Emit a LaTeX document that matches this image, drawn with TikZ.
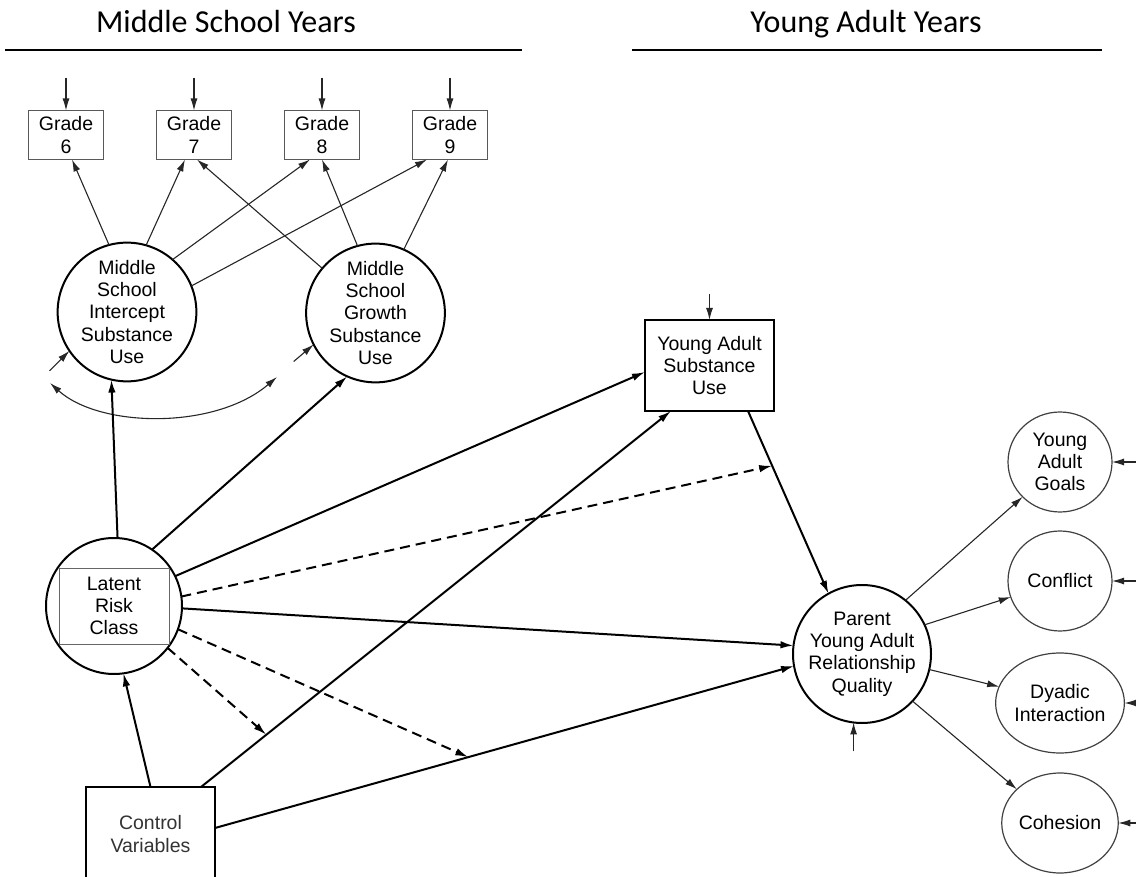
\documentclass[tikz,border=0pt]{standalone}
\usepackage{fontspec}
\setmainfont{Liberation Sans}
\newfontfamily\hdrfont{Carlito}
\usetikzlibrary{arrows.meta,shapes.geometric,calc}
\begin{document}
\begin{tikzpicture}[x=1pt,y=-1pt,
  every node/.style={font=\fontsize{19.5}{22.3}\selectfont, align=center, inner sep=0pt, outer sep=0pt},
  big/.style={circle, draw, line width=2pt, minimum size=136pt},
  small/.style={ellipse, draw=black!75, line width=1.2pt, minimum width=104pt, minimum height=100pt},
  grade/.style={rectangle, draw=black!65, line width=1.3pt, minimum width=75pt, minimum height=49pt},
  sbox/.style={rectangle, draw, line width=2pt, minimum width=129pt, minimum height=91pt},
  tip/.style={-{Latex[length=13pt,width=7.5pt]}},
  thin/.style={-{Latex[length=12pt,width=7pt]}, line width=1.1pt, draw=black!85},
  thick/.style={tip, line width=2pt},
  dsh/.style={tip, line width=2pt, dash pattern=on 10pt off 6pt},
  hdr/.style={font=\hdrfont\fontsize{32}{36}\selectfont, anchor=base},
]
\useasboundingbox (0,0) rectangle (1136,877);
\clip (0,0) rectangle (1136,877);

% headers
\node[hdr] (h1) at (226,33) {Middle School Years};
\node[hdr] (h2) at (866,33) {Young Adult Years};
\draw[line width=2.5pt] (5,50) -- (522,50);
\draw[line width=2.5pt] (632,50) -- (1102,50);

% grade boxes
\node[grade] (g6) at (66,135) {Grade\\6};
\node[grade] (g7) at (194,135) {Grade\\7};
\node[grade] (g8) at (322,135) {Grade\\8};
\node[grade] (g9) at (450,135) {Grade\\9};

% latent growth factors
\node[big] (int) at (127,312) {Middle\\School\\Intercept\\Substance\\Use};
\node[big] (gro) at (375.5,313) {Middle\\School\\Growth\\Substance\\Use};

% latent risk class
\node[big] (lat) at (114,606) {};
\node[rectangle, draw=black!60, line width=1pt, minimum width=110pt, minimum height=76pt] (latbox) at (lat) {Latent\\Risk\\Class};

% control variables
\node[sbox, minimum height=94pt, text=black!80] (ctrl) at (150.5,834) {Control\\Variables};

% young adult
\node[sbox] (yasu) at (709.5,365.5) {Young Adult\\Substance\\Use};
\node[big, minimum size=138pt] (pyarq) at (862,654) {Parent\\Young Adult\\Relationship\\Quality};

\node[small] (goals) at (1060,462) {Young\\Adult\\Goals};
\node[small] (conf) at (1060,581) {Conflict};
\node[small] (dyad) at (1060,703) {Dyadic\\Interaction};
\node[small] (coh) at (1060,823) {Cohesion};

% residual inputs on grades
\foreach \g in {g6,g7,g8,g9}
  \draw[thin] ($(\g.north)+(0,-32)$) -- (\g.north);

% loadings
\draw[thin] (int.105) -- ([xshift=6pt]g6.south);
\draw[thin] (int.74) -- ([xshift=-9pt]g7.south);
\draw[thin] (int.49) -- ([xshift=-12pt]g8.south);
\draw[thin] (int.22) -- ([xshift=-23pt]g9.south);
\draw[thin] (gro.140) -- ([xshift=3pt]g7.south);
\draw[thin] (gro.105) -- (g8.south);
\draw[thin] (gro.66) -- ([xshift=-2pt]g9.south);

% residuals of growth factors
\draw[thin] ($(int.214)+(-20,20)$) -- (int.214);
\draw[thin] ($(gro.207)+(-20,17)$) -- (gro.207);

% covariance
\coordinate (cvL) at (50,383);
\coordinate (cvR) at (277,377);
\draw[line width=1.1pt, draw=black!85, {Latex[length=12pt,width=7pt]}-{Latex[length=12pt,width=7pt]}]
  (cvL) .. controls (100,428) and (215,430) .. (cvR);

% structural paths
\coordinate (ctrlA) at ([xshift=-14pt]ctrl.north east);
\coordinate (yasuB) at ([xshift=26pt]yasu.south west);
\coordinate (ctrlE) at ([yshift=6pt]ctrl.east);
\coordinate (yasuS) at ([xshift=38.5pt]yasu.south);

\draw[thick] (lat.87) -- (int.257);
\draw[thick] (lat.56) -- (gro.246);
\draw[thick] (lat.26) -- ([yshift=-6.5pt]yasu.west);
\draw[thick] (lat.358) -- (pyarq.173);
\draw[thick] (ctrl.north) -- (lat.278);
\draw[thick] (ctrlA) -- (yasuB);
\draw[thick] (ctrlE) -- (pyarq.190);
\draw[thick] (yasuS) -- (pyarq.119);

% moderation (dashed)
\coordinate (m1) at ($(yasuS)!0.3!(pyarq.119)$);
\coordinate (m2) at ($(ctrlA)!0.139!(yasuB)$);
\coordinate (m3) at ($(ctrlE)!0.4375!(pyarq.190)$);
\draw[dsh] (lat.8) -- (m1);
\draw[dsh] (lat.322) -- (m2);
\draw[dsh] (lat.340) -- (m3);

% young adult residuals
\draw[thin] ($(yasu.north)+(0,-26)$) -- (yasu.north);
\draw[thin] ($(pyarq.263)+(0,29)$) -- (pyarq.263);

% indicators
\draw[thin] (pyarq.51) -- (goals.223);
\draw[thin] (pyarq.25) -- (conf.198);
\draw[thin] (pyarq.347) -- (dyad.165);
\draw[thin] (pyarq.317) -- (coh.142);

\foreach \c in {goals,conf,dyad,coh}
  \draw[thin] ($(\c.east)+(26,0)$) -- (\c.east);
\end{tikzpicture}
\end{document}
